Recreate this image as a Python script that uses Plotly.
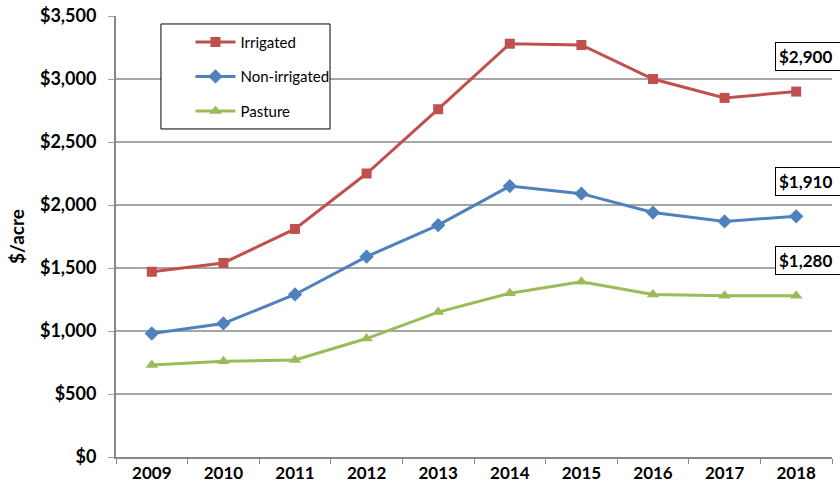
import plotly.graph_objects as go

years = ["2009", "2010", "2011", "2012", "2013", "2014", "2015", "2016", "2017", "2018"]
irrigated = [1470, 1540, 1810, 2250, 2760, 3280, 3270, 3000, 2850, 2900]
non_irrigated = [980, 1060, 1290, 1590, 1840, 2150, 2090, 1940, 1870, 1910]
pasture = [730, 760, 770, 940, 1150, 1300, 1390, 1290, 1280, 1280]
labels = ["$2,900", "$1,910", "$1,280"]

font = "Lato, Calibri, 'Open Sans', sans-serif"

fig = go.Figure()
series = [
    ("Irrigated", irrigated, "#C0504D", "square", 10),
    ("Non-irrigated", non_irrigated, "#4F81BD", "diamond", 11),
    ("Pasture", pasture, "#9BBB59", "triangle-up", 11),
]
for name, vals, color, sym, size in series:
    fig.add_trace(go.Scatter(
        x=years, y=vals, name=name, mode="lines+markers", legendgroup=name,
        line=dict(color=color, width=3),
        marker=dict(symbol=sym, size=size, color=color),
    ))

# end-of-line value boxes (run off the right edge like the original)
for (name, vals, color, sym, size), lab in zip(series, labels):
    fig.add_annotation(
        x=0.92, xref="paper", y=vals[-1], yref="y", yshift=35,
        text="<b>" + lab + "</b>&nbsp;&nbsp;&nbsp;", showarrow=False, xanchor="left",
        font=dict(size=17, color="black", family=font),
        bordercolor="black", borderwidth=1, borderpad=3, bgcolor="white",
    )

# legend frame drawn as a shape so the entries can sit further right inside it
fig.add_shape(
    type="rect", xref="paper", yref="paper",
    x0=0.0628, x1=0.2989, y0=0.7438, y1=0.9819,
    line=dict(color="black", width=1), fillcolor="white", layer="above",
)

fig.update_layout(
    width=840, height=497,
    margin=dict(l=116, r=8, t=16, b=40),
    paper_bgcolor="white", plot_bgcolor="white",
    font=dict(family=font, color="black"),
    showlegend=True,
    legend=dict(
        x=0.104, y=0.978, xanchor="left", yanchor="top",
        borderwidth=0, bgcolor="rgba(0,0,0,0)",
        font=dict(size=15), itemwidth=40, tracegroupgap=12,
    ),
    xaxis=dict(
        type="category", range=[-0.5, 9.5], tickson="boundaries",
        ticks="outside", ticklen=5,
        tickcolor="#888888", showline=True, linecolor="#888888", linewidth=2,
        showgrid=False, automargin=False,
        tickfont=dict(size=17, family=font, weight="bold"),
    ),
    yaxis=dict(
        range=[0, 3500], dtick=500, tickprefix="$", tickformat=",",
        ticks="outside", ticklen=6, tickcolor="#A0A0A0", ticklabelstandoff=8,
        showline=True, linecolor="#888888", linewidth=2,
        gridcolor="#A6A6A6", gridwidth=1.5, zeroline=False, automargin=False,
        tickfont=dict(size=18, family=font, weight="bold"),
        title=dict(text="<b>$/acre</b>", font=dict(size=19), standoff=10),
    ),
)

fig.write_html("out.html", config={"displayModeBar": False})

# drop the browser's default 8px body margin
with open("out.html") as f:
    page = f.read()
page = page.replace("<body>", '<body style="margin:0">', 1)
with open("out.html", "w") as f:
    f.write(page)
